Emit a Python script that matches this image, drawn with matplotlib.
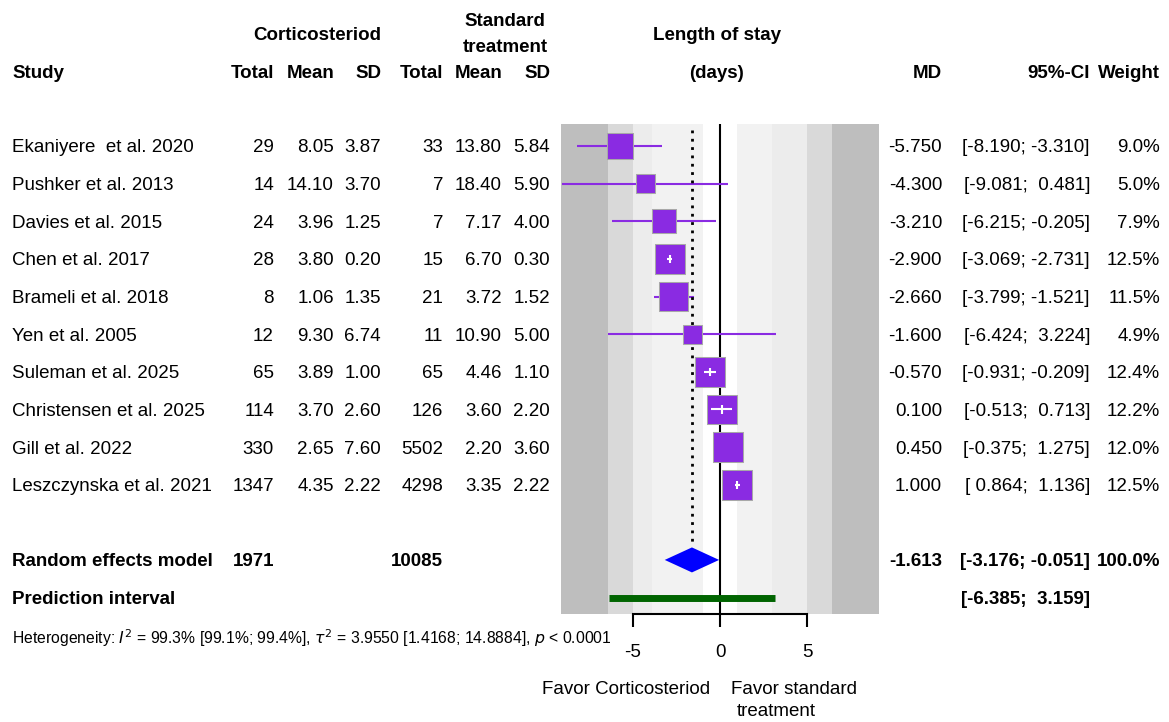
import numpy as np
import matplotlib
matplotlib.use('Agg')
from matplotlib import pyplot as plt
from matplotlib.patches import Polygon

# Study level data
studies = ['Ekaniyere  et al. 2020', 'Pushker et al. 2013', 'Davies et al. 2015',
           'Chen et al. 2017', 'Brameli et al. 2018', 'Yen et al. 2005',
           'Suleman et al. 2025', 'Christensen et al. 2025', 'Gill et al. 2022',
           'Leszczynska et al. 2021']
n_cort = [29, 14, 24, 28, 8, 12, 65, 114, 330, 1347]
mean_cort = [8.05, 14.10, 3.96, 3.80, 1.06, 9.30, 3.89, 3.70, 2.65, 4.35]
sd_cort = [3.87, 3.70, 1.25, 0.20, 1.35, 6.74, 1.00, 2.60, 7.60, 2.22]
n_std = [33, 7, 7, 15, 21, 11, 65, 126, 5502, 4298]
mean_std = [13.80, 18.40, 7.17, 6.70, 3.72, 10.90, 4.46, 3.60, 2.20, 3.35]
sd_std = [5.84, 5.90, 4.00, 0.30, 1.52, 5.00, 1.10, 2.20, 3.60, 2.22]
md = [-5.750, -4.300, -3.210, -2.900, -2.660, -1.600, -0.570, 0.100, 0.450, 1.000]
ci_lo = [-8.190, -9.081, -6.215, -3.069, -3.799, -6.424, -0.931, -0.513, -0.375, 0.864]
ci_hi = [-3.310, 0.481, -0.205, -2.731, -1.521, 3.224, -0.209, 0.713, 1.275, 1.136]
weight = [9.0, 5.0, 7.9, 12.5, 11.5, 4.9, 12.4, 12.2, 12.0, 12.5]

# Pooled results
total_cort = 1971
total_std = 10085
pooled_md = -1.613
pooled_lo = -3.176
pooled_hi = -0.051
pred_lo = -6.385
pred_hi = 3.159
het_text = (r'Heterogeneity: $I^2$ = 99.3% [99.1%; 99.4%], $\tau^2$ = 3.9550 '
            r'[1.4168; 14.8884], $p$ < 0.0001')

# Layout in pixels
W, H = 1169, 722
row0, drow = 146, 37.63
x0_px, px_per_unit = 720, 17.4
plot_left, plot_right, plot_top, plot_bottom = 561, 878.7, 124, 614
fs = 13.5
dy = 2  # small shift so text sits on the row centre
purple = '#8a2be2'

plt.rcParams['font.family'] = ['Liberation Sans', 'DejaVu Sans']
plt.rcParams['mathtext.fontset'] = 'custom'
plt.rcParams['mathtext.rm'] = 'Liberation Sans Narrow'
plt.rcParams['mathtext.it'] = 'Liberation Sans Narrow:italic'
plt.rcParams['mathtext.bf'] = 'Liberation Sans Narrow:bold'


def row_y(i):
    return row0 + drow * i + dy


fig = plt.figure(figsize=(W / 100, H / 100), dpi=100)
tab = fig.add_axes([0, 0, 1, 1])
tab.set_xlim(0, W)
tab.set_ylim(H, 0)
tab.axis('off')

ax = fig.add_axes([plot_left / W, 1 - plot_bottom / H,
                   (plot_right - plot_left) / W, (plot_bottom - plot_top) / H])
ax.set_xlim((plot_left - x0_px) / px_per_unit, (plot_right - x0_px) / px_per_unit)
ax.set_ylim((plot_bottom - row0) / drow, (plot_top - row0) / drow)

# Background bands
ax.set_facecolor('#bebebe')
for a, b, c in [(-6.44, 6.44, '#d9d9d9'), (-5, 5, '#ececec'),
                (-3.93, 3, '#f2f2f2'), (-1, 1, 'white')]:
    ax.axvspan(a, b, color=c, lw=0, zorder=0)

for s in ['top', 'left', 'right']:
    ax.spines[s].set_visible(False)
ax.spines['bottom'].set_bounds(-5, 5)
ax.spines['bottom'].set_linewidth(1.5)
ax.set_xticks([-5, 0, 5])
ax.set_xticklabels(['-5', '0', '5'])
ax.tick_params(axis='x', length=9.5, width=1.5, labelsize=fs, pad=12)
ax.set_yticks([])

ax.axvline(0, color='black', lw=1.5, zorder=3)

# Study estimates
n = len(studies)
ys = np.arange(n)
side_px = 30 * np.sqrt(np.array(weight) / 12.5)
for i in range(n):
    ax.plot([ci_lo[i], ci_hi[i]], [i, i], color=purple, lw=1.5, zorder=4,
            solid_capstyle='butt')
ax.scatter(md, ys, marker='s', s=(side_px * 0.72) ** 2, color=purple,
           edgecolors='#a8a8a8', linewidths=0.75, zorder=5)
for i in range(n):
    if ci_hi[i] - ci_lo[i] < 0.9 * side_px[i] / px_per_unit:
        ax.plot([ci_lo[i], ci_hi[i]], [i, i], color='white', lw=1.5, zorder=6,
                solid_capstyle='butt')
        ax.plot([md[i], md[i]], [i - 0.11, i + 0.11], color='white', lw=1.5,
                zorder=6, solid_capstyle='butt')

# Pooled estimate
dh = 12.5 / drow
ax.add_patch(Polygon([(pooled_lo, n + 1), (pooled_md, n + 1 - dh),
                      (pooled_hi, n + 1), (pooled_md, n + 1 + dh)],
                     closed=True, color='#0000ff', lw=0, zorder=5))
ax.plot([pooled_md, pooled_md], [(130 - row0) / drow, n + 1 - dh - 0.1],
        color='black', lw=2, ls=(0, (1, 2)), zorder=4)
ax.hlines(n + 2, pred_lo, pred_hi, color='#006400', lw=5, zorder=5)

# Column positions (right edges)
cols = [274, 334, 381, 443, 502, 550, 942, 1090, 1160]

# Headers
tab.text(317, 33 + dy, 'Corticosteriod', ha='center', va='center', fontsize=fs, weight='bold')
tab.text(505, 19 + dy, 'Standard', ha='center', va='center', fontsize=fs, weight='bold')
tab.text(505, 45 + dy, 'treatment', ha='center', va='center', fontsize=fs, weight='bold')
tab.text(717, 33 + dy, 'Length of stay', ha='center', va='center', fontsize=fs, weight='bold')
tab.text(717, 71 + dy, '(days)', ha='center', va='center', fontsize=fs, weight='bold')
tab.text(12, 71 + dy, 'Study', ha='left', va='center', fontsize=fs, weight='bold')
for x, lab in zip(cols, ['Total', 'Mean', 'SD', 'Total', 'Mean', 'SD', 'MD', '95%-CI', 'Weight']):
    tab.text(x, 71 + dy, lab, ha='right', va='center', fontsize=fs, weight='bold')

# Study rows
for i in range(n):
    y = row_y(i)
    vals = [str(n_cort[i]), f'{mean_cort[i]:.2f}', f'{sd_cort[i]:.2f}',
            str(n_std[i]), f'{mean_std[i]:.2f}', f'{sd_std[i]:.2f}',
            f'{md[i]:.3f}', f'[{ci_lo[i]:6.3f}; {ci_hi[i]:6.3f}]', f'{weight[i]:.1f}%']
    tab.text(12, y, studies[i], ha='left', va='center', fontsize=fs)
    for x, v in zip(cols, vals):
        tab.text(x, y, v, ha='right', va='center', fontsize=fs)

# Pooled rows
y = row_y(n + 1)
tab.text(12, y, 'Random effects model', ha='left', va='center', fontsize=fs, weight='bold')
for x, v in zip([cols[0], cols[3], cols[6], cols[7], cols[8]],
                [str(total_cort), str(total_std), f'{pooled_md:.3f}',
                 f'[{pooled_lo:6.3f}; {pooled_hi:6.3f}]', '100.0%']):
    tab.text(x, y, v, ha='right', va='center', fontsize=fs, weight='bold')
y = row_y(n + 2)
tab.text(12, y, 'Prediction interval', ha='left', va='center', fontsize=fs, weight='bold')
tab.text(cols[7], y, f'[{pred_lo:6.3f}; {pred_hi:6.3f}]', ha='right', va='center',
         fontsize=fs, weight='bold')

tab.text(12, 636 + dy, het_text, ha='left', va='center', fontsize=11.3,
         family=['Liberation Sans Narrow', 'Liberation Sans'])

tab.text(710, 688 + dy, 'Favor Corticosteriod', ha='right', va='center', fontsize=fs)
tab.text(731, 688 + dy, 'Favor standard', ha='left', va='center', fontsize=fs)
tab.text(737, 710 + dy, 'treatment', ha='left', va='center', fontsize=fs)

fig.savefig('out.png', dpi=100)
